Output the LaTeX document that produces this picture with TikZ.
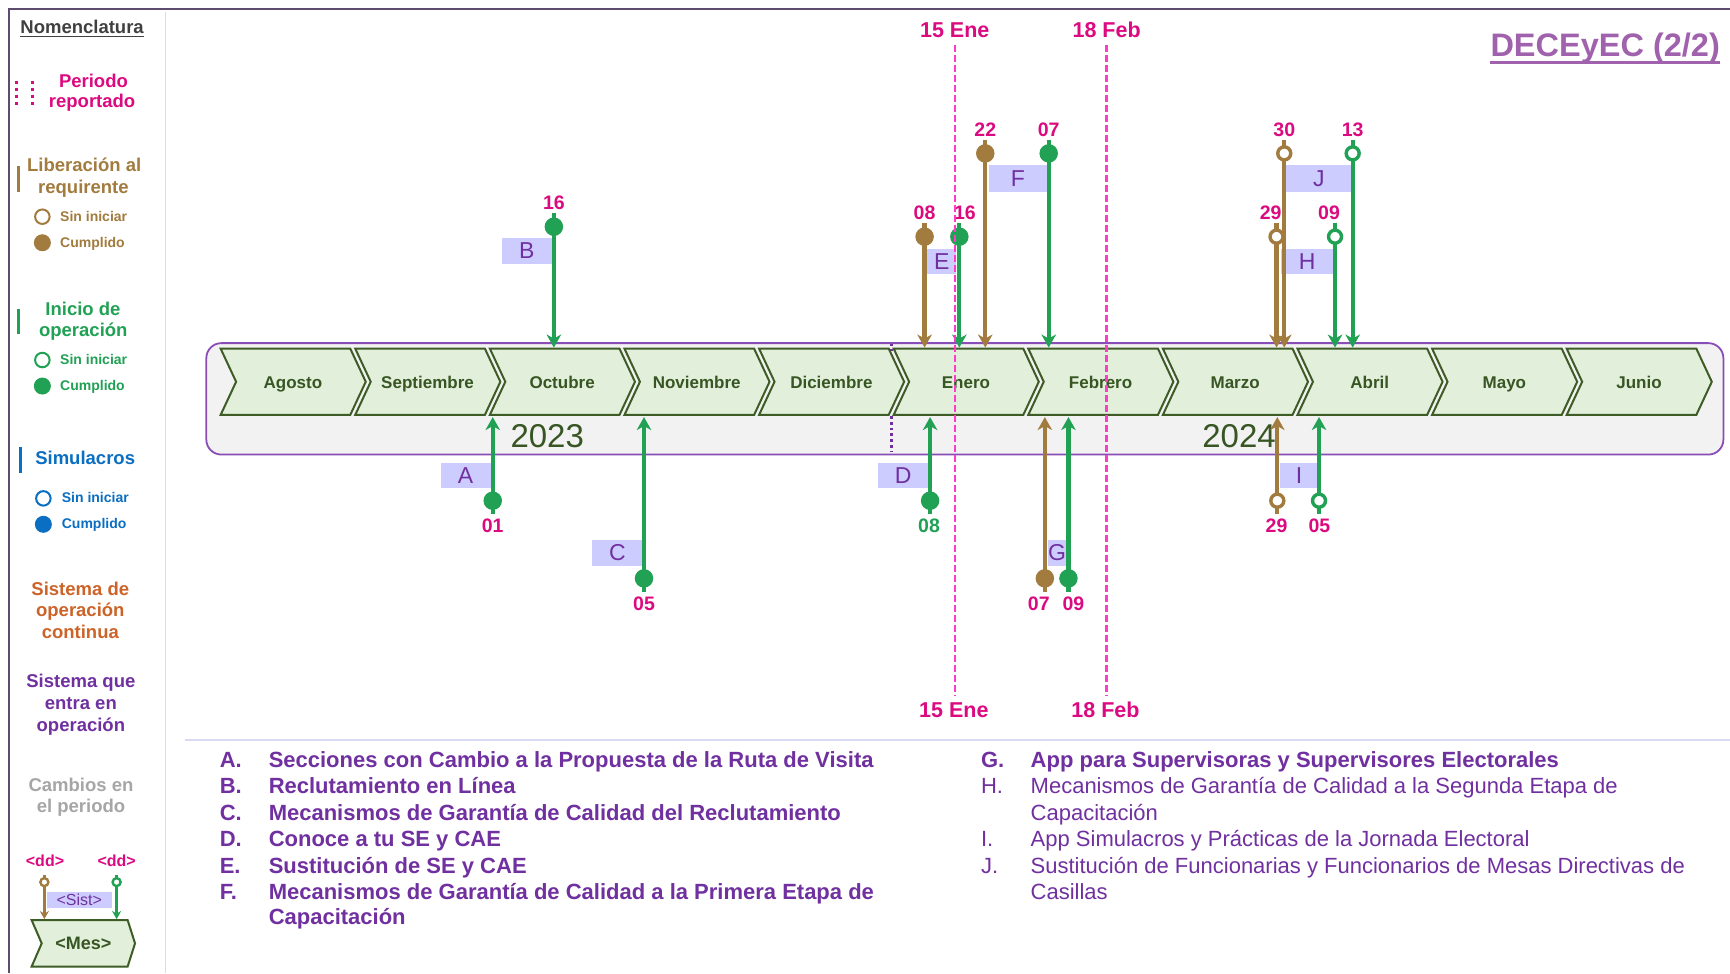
\documentclass[tikz,border=0pt]{standalone}
\usepackage{fontspec}
\setmainfont{Liberation Sans}
\usetikzlibrary{arrows.meta}
\definecolor{pinkT}{HTML}{DC0A80}
\definecolor{pinkD}{HTML}{FF3CC8}
\definecolor{brownC}{HTML}{A27B3E}
\definecolor{greenC}{HTML}{21A154}
\definecolor{blueC}{HTML}{0A6EC2}
\definecolor{orangeC}{HTML}{CC6328}
\definecolor{purpleC}{HTML}{7030A0}
\definecolor{grayC}{HTML}{A6A6A6}
\definecolor{lavC}{HTML}{CCCCFF}
\definecolor{monthFill}{HTML}{E2EFDA}
\definecolor{monthLine}{HTML}{3E5C26}
\definecolor{monthText}{HTML}{375623}
\definecolor{boxFill}{HTML}{F2F2F2}
\definecolor{boxLine}{HTML}{8A4DB8}
\definecolor{frameC}{HTML}{5E4B70}
\definecolor{sepC}{HTML}{DADAF4}
\definecolor{titleC}{HTML}{A062AC}
\definecolor{nomC}{HTML}{404040}
\newcommand{\myfs}[2]{\fontsize{#1}{#2}\selectfont}
\newcommand{\evtop}[7]{%
  \coordinate (#1s) at (#2,#3-12);
  \coordinate (#1t) at (#2,315);
  \draw[evline,#5] (#1s) -- (#1t);
  \node[#4=#5] (#1d) at (#2,#3) {};
  \node[numlbl] (#1n) at (#6,#3-15.2) {#7};
}
\newcommand{\evbot}[7]{%
  \coordinate (#1s) at (#2,#3+12);
  \coordinate (#1t) at (#2,378);
  \draw[evline,#5] (#1s) -- (#1t);
  \node[#4=#5] (#1d) at (#2,#3) {};
  \node[numlbl] (#1n) at (#6,#3+28.7) {#7};
}
\newcommand{\evbox}[6]{%
  \fill[lavC] (#2,#3) rectangle (#4,#5);
  \node[boxtxt] (#1) at ({(#2+#4)/2},{(#3+#5)/2}) {#6};
}
\begin{document}
\begin{tikzpicture}[x=1.1033pt,y=-1.1033pt,
  txt/.style={inner sep=0pt, anchor=base},
  head/.style={txt, font=\bfseries\myfs{18.5}{22}},
  small/.style={txt, anchor=base west, font=\bfseries\myfs{14}{16}},
  monthlbl/.style={txt, font=\bfseries\myfs{17}{20}, text=monthText},
  yearlbl/.style={txt, font=\myfs{33}{36}, text=monthText},
  numlbl/.style={txt, font=\bfseries\myfs{19.5}{22}, text=pinkT},
  datelbl/.style={txt, font=\bfseries\myfs{21.5}{24}, text=pinkT},
  boxtxt/.style={inner sep=0pt, font=\myfs{23}{26}, text=purpleC},
  evline/.style={line width=4.2pt, -{Stealth[length=13pt,width=14.5pt,inset=4pt]}},
  fdot/.style={circle, inner sep=0pt, minimum size=18.5pt, fill=#1},
  odot/.style={circle, inner sep=0pt, minimum size=13pt, line width=3.4pt, draw=#1, fill=white},
  lofill/.style={circle, inner sep=0pt, minimum size=17pt, fill=#1},
  loopen/.style={circle, inner sep=0pt, minimum size=14.5pt, line width=2pt, draw=#1, fill=white},
  chev/.style={fill=monthFill, draw=monthLine, line width=2pt, line join=miter},
  lega/.style={txt, anchor=base west, font=\bfseries\myfs{22}{24}, text=purpleC},
  legn/.style={txt, anchor=base west, font=\myfs{22}{24}, text=purpleC},
  pdash/.style={pinkD, line width=2.6pt, dash pattern=on 6.5pt off 3.5pt},
  miniarrow/.style={line width=2.6pt, -{Stealth[length=8pt,width=9pt,inset=2.5pt]}},
]
\useasboundingbox[fill=white] (0,0) rectangle (1568,882);
% frame and separators
\draw[frameC, line width=2.6pt] (8.2,882) -- (8.2,8.3) -- (1568,8.3);
\draw[sepC, line width=1.8pt] (150,11) -- (150,882);
\draw[sepC, line width=2pt] (168,671) -- (1568,671);

% ---------------- legend panel ----------------
\node[txt, font=\bfseries\myfs{18.5}{22}, text=nomC] (nom) at (74.4,30.5) {Nomenclatura};
\draw[nomC, line width=1.6pt] ([yshift=-2.8pt]nom.base west) -- ([yshift=-2.8pt]nom.base east);

\draw[pinkT, line width=3pt, dash pattern=on 3.5pt off 3.6pt] (15,73) -- (15,97);
\draw[pinkT, line width=3pt, dash pattern=on 3.5pt off 3.6pt] (29.6,73) -- (29.6,97);
\node[head, text=pinkT] (per1) at (84.7,79) {Periodo};
\node[head, text=pinkT] (per2) at (83.5,97.5) {reportado};

\draw[brownC, line width=3.3pt] (16.6,150.5) -- (16.6,173.7);
\node[head, text=brownC] (lib1) at (76.3,155.6) {Liberación al};
\node[head, text=brownC] (lib2) at (75.6,175.2) {requirente};
\node[loopen=brownC] (libO) at (38.4,196.4) {};
\node[small, text=brownC] (libOt) at (54.4,201) {Sin iniciar};
\node[lofill=brownC] (libF) at (38.4,220) {};
\node[small, text=brownC] (libFt) at (54.4,224) {Cumplido};

\draw[greenC, line width=3.3pt] (16.6,280.4) -- (16.6,303);
\node[head, text=greenC] (ini1) at (75.2,285.5) {Inicio de};
\node[head, text=greenC] (ini2) at (75.5,305.2) {operación};
\node[loopen=greenC] (iniO) at (38.4,326.3) {};
\node[small, text=greenC] (iniOt) at (54.4,330) {Sin iniciar};
\node[lofill=greenC] (iniF) at (38.4,349.9) {};
\node[small, text=greenC] (iniFt) at (54.4,353.5) {Cumplido};

\draw[blueC, line width=3.3pt] (18.7,404.9) -- (18.7,428.4);
\node[head, text=blueC] (sim1) at (77.2,420.9) {Simulacros};
\node[loopen=blueC] (simO) at (39.3,451.7) {};
\node[small, text=blueC] (simOt) at (55.9,455.6) {Sin iniciar};
\node[lofill=blueC] (simF) at (39.3,475.2) {};
\node[small, text=blueC] (simFt) at (55.9,478.9) {Cumplido};

\node[head, text=orangeC] (soc1) at (72.8,539.3) {Sistema de};
\node[head, text=orangeC] (soc2) at (72.8,558.9) {operación};
\node[head, text=orangeC] (soc3) at (72.8,578.6) {continua};

\node[head, text=purpleC] (seo1) at (73.3,623) {Sistema que};
\node[head, text=purpleC] (seo2) at (73.3,642.9) {entra en};
\node[head, text=purpleC] (seo3) at (73.3,662.6) {operación};

\node[head, text=grayC] (cam1) at (73.4,717) {Cambios en};
\node[head, text=grayC] (cam2) at (73.4,736.6) {el periodo};

\node[txt, font=\bfseries\myfs{16}{18}, text=pinkT] (dd1) at (40.8,784.9) {\textless dd\textgreater};
\node[txt, font=\bfseries\myfs{16}{18}, text=pinkT] (dd2) at (105.7,784.9) {\textless dd\textgreater};
\fill[lavC] (42.3,808.2) rectangle (101.2,823.3);
\node[inner sep=0pt, font=\myfs{16}{18}, text=purpleC] (sist) at (71.8,815.8) {\textless Sist\textgreater};
\draw[chev] (28.7,834) -- (115.7,834) -- (122.4,855) -- (115.7,876) -- (28.7,876) -- (37.8,855) -- cycle;
\node[txt, font=\bfseries\myfs{18}{20}, text=monthText] (mes) at (75.5,861) {\textless Mes\textgreater};
\coordinate (ml1s) at (40.2,793);
\coordinate (ml1t) at (40.2,833);
\coordinate (ml2s) at (105.7,793);
\coordinate (ml2t) at (105.7,833);
\draw[miniarrow, brownC] (ml1s) -- (ml1t);
\draw[miniarrow, greenC] (ml2s) -- (ml2t);
\node[circle, inner sep=0pt, minimum size=8pt, line width=2.4pt, draw=brownC, fill=white] (ml1d) at (40.2,799.5) {};
\node[circle, inner sep=0pt, minimum size=8pt, line width=2.4pt, draw=greenC, fill=white] (ml2d) at (105.7,799.5) {};

% ---------------- title ----------------
\node[txt, anchor=base east, font=\bfseries\myfs{32.5}{36}, text=titleC] (title) at (1559,50.8) {DECEyEC (2/2)};
\draw[titleC, line width=2.5pt] ([yshift=-6.6pt]title.base west) -- ([yshift=-6.6pt]title.base east);

% ---------------- timeline ----------------
\draw[fill=boxFill, draw=boxLine, line width=1.8pt, rounded corners=15pt] (187,311) rectangle (1562,412);
\draw[purpleC, line width=2.8pt, dash pattern=on 2.8pt off 3pt] (808,311.5) -- (808,318);
\draw[purpleC, line width=2.8pt, dash pattern=on 2.8pt off 3pt] (808,377) -- (808,409);
\foreach \m [count=\i from 0] in {Agosto,Septiembre,Octubre,Noviembre,Diciembre,Enero,Febrero,Marzo,Abril,Mayo,Junio} {
  \pgfmathsetmacro\L{200+122*\i}
  \draw[chev] (\L,316) -- ++(117.5,0) -- ++(14,30) -- ++(-14,30) -- ++(-117.5,0) -- ++(14,-30) -- cycle;
  \node[monthlbl] (m\i) at (\L+65.5,352) {\m};
}
\node[yearlbl] (y23) at (496,405.8) {2023};
\node[yearlbl] (y24) at (1123,405.8) {2024};

% label boxes
\evbox{bxB}{455}{216}{500}{239}{B}
\evbox{bxE}{840.5}{226}{866.5}{248.4}{E}
\evbox{bxF}{896}{149.5}{949}{173.7}{F}
\evbox{bxJ}{1166}{149.5}{1224.5}{173.7}{J}
\evbox{bxH}{1160.7}{226}{1209}{248.4}{H}
\evbox{bxA}{399.4}{419.3}{444.7}{442}{A}
\evbox{bxC}{536.8}{489.4}{582.2}{512.7}{C}
\evbox{bxD}{795.8}{419.3}{841.2}{442}{D}
\evbox{bxG}{949.6}{489.4}{966.5}{512.7}{G}
\evbox{bxI}{1160}{419.3}{1195}{442}{I}

% events above
\evtop{B}{502}{205.5}{fdot}{greenC}{502}{16}
\evtop{Eb}{838}{214.5}{fdot}{brownC}{838}{08}
\evtop{Eg}{869.5}{214.5}{fdot}{greenC}{874.5}{16}
\evtop{Fb}{893}{139}{fdot}{brownC}{893}{22}
\evtop{Fg}{950.5}{139}{fdot}{greenC}{950.5}{07}
\evtop{Jb}{1164}{139}{odot}{brownC}{1164}{30}
\evtop{Jg}{1226}{139}{odot}{greenC}{1226}{13}
\evtop{Hb}{1157}{214.5}{odot}{brownC}{1151.6}{29}
\evtop{Hg}{1210}{214.5}{odot}{greenC}{1204.6}{09}

% events below
\evbot{A}{446.6}{453.8}{fdot}{greenC}{446.6}{01}
\evbot{C}{583.7}{524.2}{fdot}{greenC}{583.7}{05}
\evbot{D}{843}{453.8}{fdot}{greenC}{842}{\color{greenC}08}
\evbot{Gb}{947}{524.2}{fdot}{brownC}{941.5}{07}
\evbot{Gg}{968.4}{524.2}{fdot}{greenC}{972.9}{09}
\evbot{Ib}{1157.7}{453.8}{odot}{brownC}{1157}{29}
\evbot{Ig}{1195.5}{453.8}{odot}{greenC}{1195.8}{05}

% reported period lines
\coordinate (eneT) at (865.5,41);
\coordinate (eneB) at (865.5,631);
\coordinate (febT) at (1003,41);
\coordinate (febB) at (1003,631);
\draw[pdash] (eneT) -- (eneB);
\draw[pdash] (febT) -- (febB);
\node[datelbl] (eneL1) at (865.3,34.1) {15 Ene};
\node[datelbl] (febL1) at (1003,34.1) {18 Feb};
\node[datelbl] (eneL2) at (864.5,650.5) {15 Ene};
\node[datelbl] (febL2) at (1002,650.5) {18 Feb};

% ---------------- bottom legend ----------------
\node[lega] (kA) at (199,695.5) {A.};
\node[lega] (tA) at (243.4,695.5) {Secciones con Cambio a la Propuesta de la Ruta de Visita};
\node[lega] (kB) at (199,719.6) {B.};
\node[lega] (tB) at (243.4,719.6) {Reclutamiento en Línea};
\node[lega] (kC) at (199,743.7) {C.};
\node[lega] (tC) at (243.4,743.7) {Mecanismos de Garantía de Calidad del Reclutamiento};
\node[lega] (kD) at (199,767.3) {D.};
\node[lega] (tD) at (243.4,767.3) {Conoce a tu SE y CAE};
\node[lega] (kE) at (199,791.5) {E.};
\node[lega] (tE) at (243.4,791.5) {Sustitución de SE y CAE};
\node[lega] (kF) at (199,815) {F.};
\node[lega] (tF) at (243.4,815) {Mecanismos de Garantía de Calidad a la Primera Etapa de};
\node[lega] (tF2) at (243.4,838.2) {Capacitación};

\node[lega] (kG) at (889,695.5) {G.};
\node[lega] (tG) at (934,695.5) {App para Supervisoras y Supervisores Electorales};
\node[legn] (kH) at (889,719.6) {H.};
\node[legn] (tH) at (934,719.6) {Mecanismos de Garantía de Calidad a la Segunda Etapa de};
\node[legn] (tH2) at (934,743.7) {Capacitación};
\node[legn] (kI) at (889,767.3) {I.};
\node[legn] (tI) at (934,767.3) {App Simulacros y Prácticas de la Jornada Electoral};
\node[legn] (kJ) at (889,791.5) {J.};
\node[legn] (tJ) at (934,791.5) {Sustitución de Funcionarias y Funcionarios de Mesas Directivas de};
\node[legn] (tJ2) at (934,815) {Casillas};
\end{tikzpicture}
\end{document}
